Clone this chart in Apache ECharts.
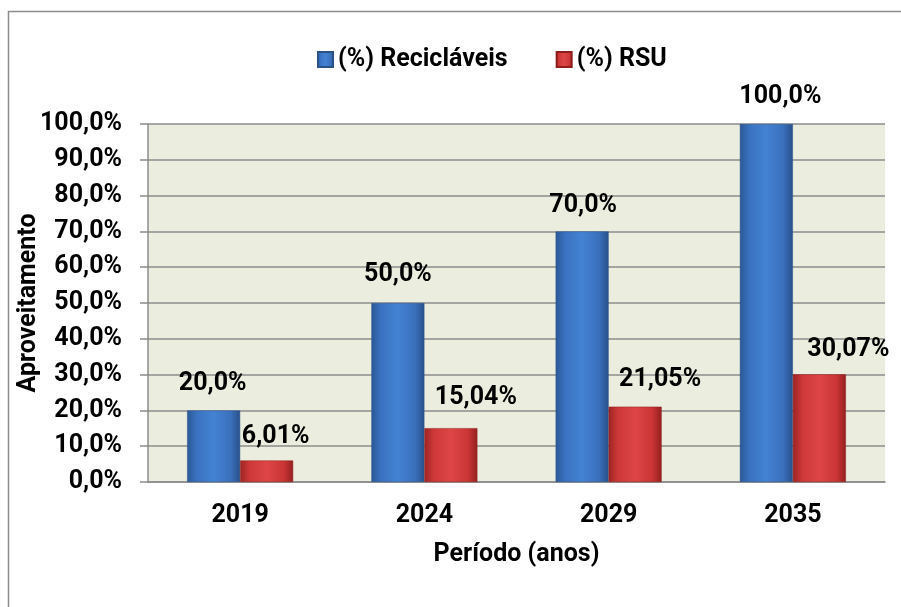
<!DOCTYPE html>
<html>
<head>
<meta charset="utf-8">
<script src="https://cdn.jsdelivr.net/npm/echarts@6/dist/echarts.min.js"></script>
<style>
  html, body { margin: 0; padding: 0; background: #fff; }
  #chart { width: 901px; height: 607px; }
</style>
</head>
<body>
<div id="chart"></div>
<script>
const categories = ['2019', '2024', '2029', '2035'];
const reciclaveis = [20.0, 50.0, 70.0, 100.0];
const rsu = [6.01, 15.04, 21.05, 30.07];
const yTicks = { min: 0, max: 100, interval: 10 };

// label nudges, like the hand-placed labels of the original
const recOffsets = [[-1, -14], [0, -16], [1, -13], [14, -15]];
const rsuOffsets = [[9, -11], [25, -18], [25, -14], [29, -12]];

const FONT = "Roboto, 'DejaVu Sans Condensed', sans-serif";
const comma = (v, d) => v.toFixed(d).replace('.', ',');

const blueFill = new echarts.graphic.LinearGradient(0, 0, 1, 0, [
  { offset: 0, color: '#2B5896' },
  { offset: 0.18, color: '#3A72C0' },
  { offset: 0.5, color: '#4482D3' },
  { offset: 0.82, color: '#3A70BC' },
  { offset: 1, color: '#28508A' }
]);
const redFill = new echarts.graphic.LinearGradient(0, 0, 1, 0, [
  { offset: 0, color: '#9C2424' },
  { offset: 0.18, color: '#CF3838' },
  { offset: 0.5, color: '#DE4646' },
  { offset: 0.82, color: '#CB3535' },
  { offset: 1, color: '#952020' }
]);

function withLabels (values, offsets, digits) {
  return values.map((v, i) => ({
    value: v,
    label: { offset: offsets[i], formatter: comma(v, digits) + '%' }
  }));
}

const txt = size => ({ fontFamily: FONT, fontWeight: 'bold', fontSize: size, color: '#000' });

let option = {
  animation: false,
  textStyle: { fontFamily: FONT, fontWeight: 'bold', color: '#000' },
  graphic: [{
    type: 'rect',
    z: -10,
    shape: { x: 8.5, y: 11.5, width: 1000, height: 1000 },
    style: { fill: null, stroke: '#8C8C8C', lineWidth: 1.5 }
  }],
  legend: {
    left: 312,
    top: 42,
    itemWidth: 15,
    itemHeight: 15,
    itemGap: 48,
    icon: 'rect',
    textStyle: txt(25),
    data: ['(%) Recicláveis', '(%) RSU']
  },
  grid: {
    left: 148,
    right: 16,
    top: 124,
    bottom: 125,
    outerBoundsMode: 'none',
    containLabel: false,
    show: true,
    backgroundColor: '#EBEEDE',
    borderWidth: 0
  },
  xAxis: {
    type: 'category',
    data: categories,
    name: 'Período (anos)',
    nameLocation: 'middle',
    nameGap: 60,
    nameMoveOverlap: false,
    nameTextStyle: txt(25),
    axisLine: { lineStyle: { color: '#8C8C8C', width: 1.5 } },
    axisTick: { length: 7, lineStyle: { color: '#8C8C8C', width: 1.5 } },
    axisLabel: Object.assign({ margin: 21 }, txt(25))
  },
  yAxis: {
    type: 'value',
    min: yTicks.min,
    max: yTicks.max,
    interval: yTicks.interval,
    name: 'Aproveitamento',
    nameLocation: 'middle',
    nameGap: 107,
    nameMoveOverlap: false,
    nameTextStyle: txt(25),
    axisLine: { show: true, lineStyle: { color: '#8C8C8C', width: 1.5 } },
    axisTick: { show: true, length: 8, lineStyle: { color: '#8C8C8C', width: 1.5 } },
    splitLine: { lineStyle: { color: '#8C8C8C', width: 1.5 } },
    axisLabel: Object.assign({ margin: 26, formatter: v => comma(v, 1) + '%' }, txt(25))
  },
  series: [
    {
      name: '(%) Recicláveis',
      type: 'bar',
      barWidth: 53,
      barGap: '0%',
      data: withLabels(reciclaveis, recOffsets, 1),
      itemStyle: { color: blueFill, borderColor: '#2A5188', borderWidth: 0.5 },
      label: Object.assign({ show: true, position: 'top', distance: 0 }, txt(25))
    },
    {
      name: '(%) RSU',
      type: 'bar',
      barWidth: 53,
      barGap: '0%',
      data: withLabels(rsu, rsuOffsets, 2),
      itemStyle: { color: redFill, borderColor: '#8E1E1E', borderWidth: 0.5 },
      label: Object.assign({ show: true, position: 'top', distance: 0 }, txt(25))
    }
  ]
};

let mychart = echarts.init(document.getElementById('chart'));
mychart.setOption(option);
</script>
</body>
</html>
